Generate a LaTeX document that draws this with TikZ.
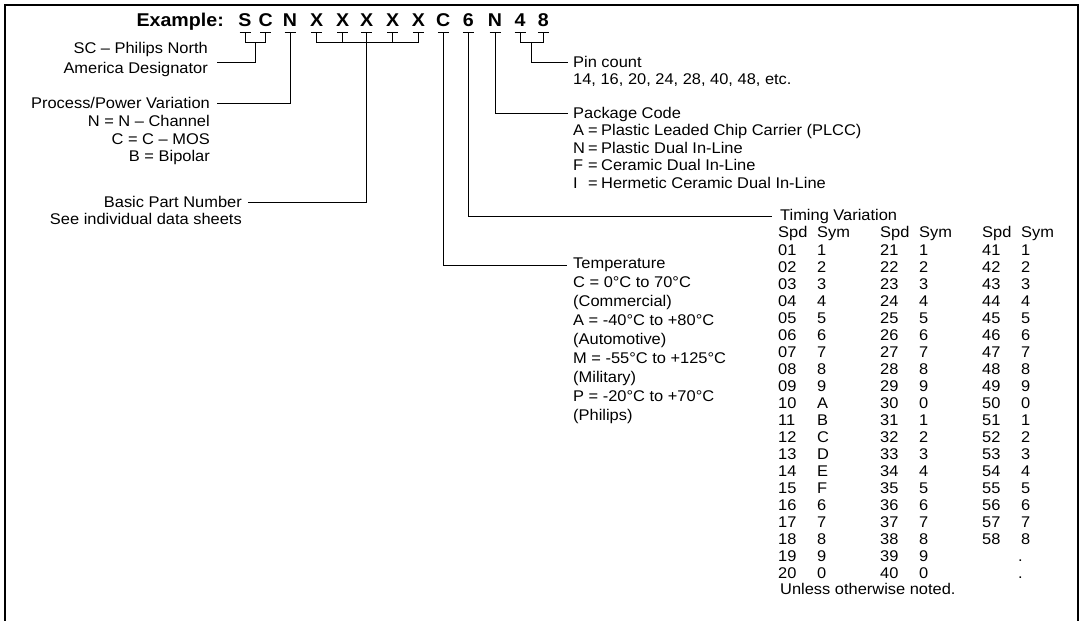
\documentclass[tikz,border=0pt]{standalone}
\usepackage{fontspec}
\setmainfont{Liberation Sans}[FakeStretch=1.06]
\usetikzlibrary{calc}
\newcommand\bodyfs{\fontsize{15.5}{17}\selectfont}
\newcommand\hdrfs{\fontsize{18.5}{20}\selectfont\bfseries}
\tikzset{
  frame/.style={line width=1.6pt},
  conn/.style={line width=0.9pt},
  txt/.style={inner sep=0pt, font=\bodyfs, anchor=base west},
  txtr/.style={inner sep=0pt, font=\bodyfs, anchor=base east},
  hdr/.style={inner sep=0pt, font=\hdrfs},
}
\begin{document}
\begin{tikzpicture}[x=1pt,y=-1pt]
\useasboundingbox (0,0) rectangle (1082,621);
\draw[frame] (5,621) -- (5,5) -- (1078,5) -- (1078,621);

% header
\node[hdr, anchor=base east] (ex) at (224,27) {Example:};
\foreach \nm/\x/\t in {S/245/S, C/265.7/C, N/290/N, Xa/316.7/X, Xb/342.7/X, Xc/366.7/X, Xd/392.7/X, Xe/418.3/X, Cb/443.3/C, Six/468.3/6, Nb/495/N, Four/520/4, Eight/543.3/8} {
  \node[hdr, anchor=base] (l\nm) at (\x,27) {\t};
  \coordinate (u\nm) at ([yshift=-5pt]l\nm.base);
  \draw[conn] ([xshift=-5.5pt]u\nm) -- ([xshift=5.5pt]u\nm);
}

% end points of connectors
\coordinate (scend) at (217,62);
\coordinate (procend) at (217,103);
\coordinate (bpnend) at (248,202);
\coordinate (tempend) at (567,265);
\coordinate (timend) at (772,216);
\coordinate (pkgend) at (568,113);
\coordinate (pinend) at (568,62);

% connectors
\draw[conn] (uS) -- ++(0,10) -| (uC);
\coordinate (mSC) at ($(uS)!0.5!(uC)+(0,10)$);
\draw[conn] (mSC) |- (scend);
\draw[conn] (uN) |- (procend);
\draw[conn] (uXa) -- ++(0,10) -| (uXe);
\draw[conn] (uXb) -- ++(0,10);
\draw[conn] (uXd) -- ++(0,10);
\draw[conn] (uXc) |- (bpnend);
\draw[conn] (uCb) |- (tempend);
\draw[conn] (uSix) |- (timend);
\draw[conn] (uNb) |- (pkgend);
\draw[conn] (uFour) -- ++(0,10) -| (uEight);
\coordinate (m48) at ($(uFour)!0.5!(uEight)+(0,10)$);
\draw[conn] (m48) |- (pinend);

% left labels
\node[txtr] (sc1) at (208,53) {SC -- Philips North};
\node[txtr] (sc2) at (208,73) {America Designator};
\node[txtr] (pr1) at (210,108) {Process/Power Variation};
\node[txtr] (pr2) at (210,126) {N = N -- Channel};
\node[txtr] (pr3) at (210,144) {C = C -- MOS};
\node[txtr] (pr4) at (210,161) {B = Bipolar};
\node[txtr] (bp1) at (242,207) {Basic Part Number};
\node[txtr] (bp2) at (242,224) {See individual data sheets};

% pin count
\node[txt] (pc1) at (573,67) {Pin count};
\node[txt] (pc2) at (573,84) {14, 16, 20, 24, 28, 40, 48, etc.};

% package code
\node[txt] (pk0) at (573,118) {Package Code};
\foreach \k/\l/\d [count=\i] in {a/A/Plastic Leaded Chip Carrier (PLCC), n/N/Plastic Dual In-Line, f/F/Ceramic Dual In-Line, h/I/Hermetic Ceramic Dual In-Line} {
  \node[txt] (pkl\k) at (573,{118+17.5*\i}) {\l};
  \node[txt] (pke\k) at (588,{118+17.5*\i}) {=};
  \node[txt] (pkd\k) at (601,{118+17.5*\i}) {\d};
}

% temperature
\foreach \t [count=\i from 0] in {Temperature, C = 0\textdegree C to 70\textdegree C, (Commercial), A = -40\textdegree C to +80\textdegree C, (Automotive), M = -55\textdegree C to +125\textdegree C, (Military), P = -20\textdegree C to +70\textdegree C, (Philips)} {
  \node[txt] (tp\i) at (573,{268+19.1*\i}) {\t};
}

% timing variation
\node[txt] (tv) at (780,220) {Timing Variation};
\foreach \c/\x in {1/778, 2/880, 3/982} {
  \node[txt] (hs\c) at (\x,237) {Spd};
  \node[txt] (hy\c) at (\x+39,237) {Sym};
}
\foreach \s [count=\i from 0] in {1,2,3,4,5,6,7,8,9,A,B,C,D,E,F,6,7,8,9,0} {
  \pgfmathtruncatemacro\n{\i+1}
  \node[txt] (a\i) at (778,{255+17*\i}) {\ifnum\n<10 0\fi\n};
  \node[txt] (as\i) at (817,{255+17*\i}) {\s};
}
\foreach \s [count=\i from 0] in {1,2,3,4,5,6,7,8,9,0,1,2,3,4,5,6,7,8,9,0} {
  \pgfmathtruncatemacro\n{\i+21}
  \node[txt] (b\i) at (880,{255+17*\i}) {\n};
  \node[txt] (bs\i) at (919,{255+17*\i}) {\s};
}
\foreach \s [count=\i from 0] in {1,2,3,4,5,6,7,8,9,0,1,2,3,4,5,6,7,8} {
  \pgfmathtruncatemacro\n{\i+41}
  \node[txt] (c\i) at (982,{255+17*\i}) {\n};
  \node[txt] (cs\i) at (1021,{255+17*\i}) {\s};
}
\node[txt] (cd1) at (1018,{255+17*18}) {.};
\node[txt] (cd2) at (1018,{255+17*19}) {.};
\node[txt] (un) at (780,594) {Unless otherwise noted.};
\end{tikzpicture}
\end{document}
